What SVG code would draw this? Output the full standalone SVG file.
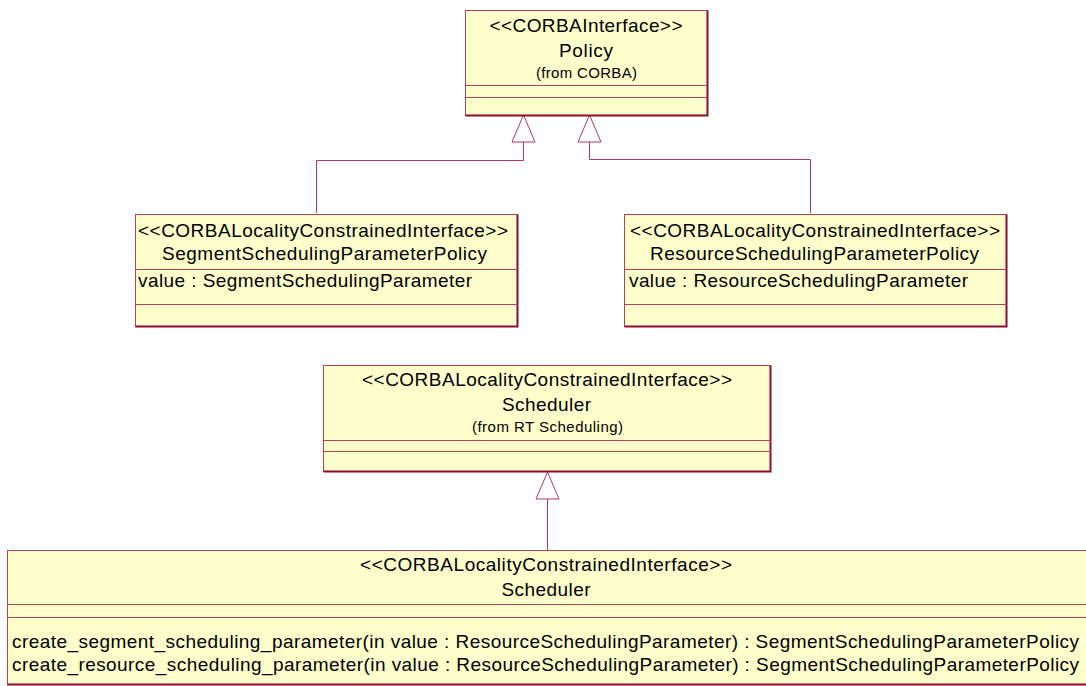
<svg xmlns="http://www.w3.org/2000/svg" width="1086" height="686" viewBox="0 0 1086 686">
<style>
.box{fill:#FFFFCC;stroke:#B8405F;stroke-width:1}
.shade{fill:none;stroke:#8C0A33;stroke-width:2}
.div{stroke:#B8405F;stroke-width:1}
.t{font-family:"Liberation Sans",Arial,sans-serif;font-size:19px;fill:#000000}
.s{font-family:"Liberation Sans",Arial,sans-serif;font-size:15px;fill:#000000}
.m{text-anchor:middle}
.conn{fill:none;stroke:#B03A5E;stroke-width:1}
.tri{fill:#FFFFFF;stroke:#B03A5E;stroke-width:1}
</style>
<g id="connectors">
<polyline class="conn" points="316.5,213 316.5,160.5 523.5,160.5 523.5,142"/>
<polygon class="tri" points="523.5,115 512,142 535,142"/>
<polyline class="conn" points="810.5,213 810.5,159.5 589.5,159.5 589.5,142"/>
<polygon class="tri" points="589.5,115 578,142 601,142"/>
<line class="conn" x1="547.5" y1="550" x2="547.5" y2="499"/>
<polygon class="tri" points="547.5,472 536,499 559,499"/>
</g>
<g id="policy">
<rect class="box" x="465.5" y="10.5" width="242" height="105"/>
<polyline class="shade" points="707.5,10.5 707.5,115.5 465.5,115.5"/>
<line class="div" x1="465.5" y1="85.5" x2="707.5" y2="85.5"/>
<line class="div" x1="465.5" y1="97.5" x2="707.5" y2="97.5"/>
<text class="t m" x="586" y="32" textLength="193">&lt;&lt;CORBAInterface&gt;&gt;</text>
<text class="t m" x="586" y="57" textLength="54">Policy</text>
<text class="s m" x="586.5" y="78" textLength="101">(from CORBA)</text>
</g>
<g id="segmentPolicy">
<rect class="box" x="135.5" y="214.5" width="382" height="112"/>
<polyline class="shade" points="517.5,214.5 517.5,326.5 135.5,326.5"/>
<line class="div" x1="135.5" y1="269.5" x2="517.5" y2="269.5"/>
<line class="div" x1="135.5" y1="304.5" x2="517.5" y2="304.5"/>
<text class="t m" x="323" y="237" textLength="370">&lt;&lt;CORBALocalityConstrainedInterface&gt;&gt;</text>
<text class="t m" x="324.5" y="260" textLength="325">SegmentSchedulingParameterPolicy</text>
<text class="t" x="138" y="287" textLength="334">value : SegmentSchedulingParameter</text>
</g>
<g id="resourcePolicy">
<rect class="box" x="624.5" y="214.5" width="382" height="112"/>
<polyline class="shade" points="1006.5,214.5 1006.5,326.5 624.5,326.5"/>
<line class="div" x1="624.5" y1="269.5" x2="1006.5" y2="269.5"/>
<line class="div" x1="624.5" y1="304.5" x2="1006.5" y2="304.5"/>
<text class="t m" x="815" y="237" textLength="370">&lt;&lt;CORBALocalityConstrainedInterface&gt;&gt;</text>
<text class="t m" x="814.5" y="260" textLength="329">ResourceSchedulingParameterPolicy</text>
<text class="t" x="629" y="287" textLength="339">value : ResourceSchedulingParameter</text>
</g>
<g id="rtScheduler">
<rect class="box" x="323.5" y="365.5" width="447" height="106"/>
<polyline class="shade" points="770.5,365.5 770.5,471.5 323.5,471.5"/>
<line class="div" x1="323.5" y1="440.5" x2="770.5" y2="440.5"/>
<line class="div" x1="323.5" y1="451.5" x2="770.5" y2="451.5"/>
<text class="t m" x="547" y="386" textLength="370">&lt;&lt;CORBALocalityConstrainedInterface&gt;&gt;</text>
<text class="t m" x="546.5" y="411" textLength="89">Scheduler</text>
<text class="s m" x="547.5" y="432" textLength="151">(from RT Scheduling)</text>
</g>
<g id="scheduler">
<rect class="box" x="7.5" y="550.5" width="1090" height="134"/>
<polyline class="shade" points="7.5,684.5 1097,684.5"/>
<line class="div" x1="7.5" y1="604.5" x2="1090" y2="604.5"/>
<line class="div" x1="7.5" y1="617.5" x2="1090" y2="617.5"/>
<text class="t m" x="546" y="571" textLength="372">&lt;&lt;CORBALocalityConstrainedInterface&gt;&gt;</text>
<text class="t m" x="546" y="596" textLength="89">Scheduler</text>
<text class="t" x="12" y="648" textLength="1067">create_segment_scheduling_parameter(in value : ResourceSchedulingParameter) : SegmentSchedulingParameterPolicy</text>
<text class="t" x="12" y="671" textLength="1067">create_resource_scheduling_parameter(in value : ResourceSchedulingParameter) : SegmentSchedulingParameterPolicy</text>
</g>
</svg>
